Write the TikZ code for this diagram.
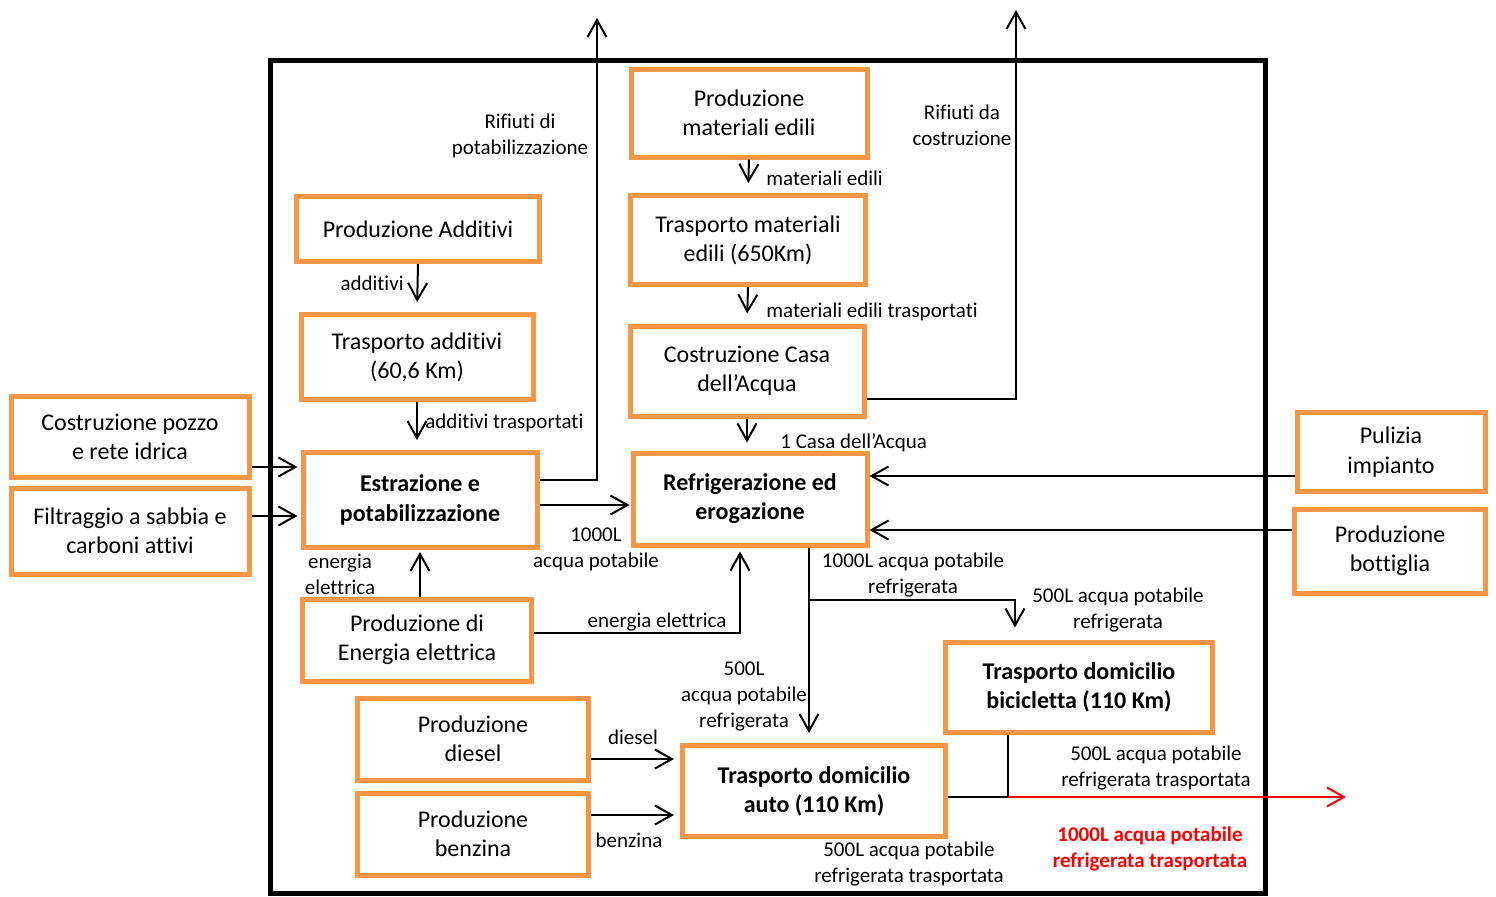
\documentclass[tikz,border=0pt]{standalone}
\usepackage{fontspec}
\setmainfont{Carlito}[Ligatures={NoCommon,NoContextual,NoRare}, RawFeature=-liga]
\usetikzlibrary{arrows.meta,calc}
\definecolor{boxorange}{HTML}{F79646}
\definecolor{outred}{HTML}{FF0000}
\tikzset{
  box/.style={draw=boxorange, line width=2.5pt, fill=white, align=center,
    font=\fontsize{12}{14.6}\selectfont, inner sep=0pt},
  boldbox/.style={box, font=\fontsize{12}{14.6}\selectfont\bfseries},
  lbl/.style={align=center, font=\fontsize{10.5}{13}\selectfont, inner sep=0pt},
  ln/.style={line width=1pt},
  arr/.style={line width=1pt, -{Straight Barb[length=8.5pt,width=9.5pt]}},
}
\begin{document}
\begin{tikzpicture}[x=0.5pt,y=-0.5pt]
\useasboundingbox (0,0) rectangle (1496,896);

% system boundary
\draw[line width=2.5pt] (270,60) rectangle (1265,893);

% process boxes
\node[box, minimum width=118pt, minimum height=44pt] (matedili) at (749,113) {Produzione\\materiali edili};
\node[box, minimum width=117.5pt, minimum height=44.5pt] (trasmat) at (748,240) {Trasporto materiali\\edili (650Km)};
\node[box, minimum width=117pt, minimum height=45pt] (casa) at (747,371) {Costruzione Casa\\dell’Acqua};
\node[box, minimum width=121.5pt, minimum height=32.5pt] (prodadd) at (418,229) {Produzione Additivi};
\node[box, minimum width=116pt, minimum height=42.5pt] (trasadd) at (417,357) {Trasporto additivi\\(60,6 Km)};
\node[box, minimum width=119pt, minimum height=40.5pt] (pozzo) at (130,437) {Costruzione pozzo\\e rete idrica};
\node[box, minimum width=119pt, minimum height=43pt] (filtr) at (130,531) {Filtraggio a sabbia e\\carboni attivi};
\node[boldbox, minimum width=117pt, minimum height=47.5pt] (estr) at (420,500) {Estrazione e\\potabilizzazione};
\node[boldbox, minimum width=117pt, minimum height=46pt] (refr) at (750,499) {Refrigerazione ed\\erogazione};
\node[box, minimum width=94pt, minimum height=39.5pt] (pulizia) at (1391,452) {Pulizia\\impianto};
\node[box, minimum width=95.5pt, minimum height=42pt] (bott) at (1390,551) {Produzione\\bottiglia};
\node[box, minimum width=114.5pt, minimum height=41pt] (energia) at (417,640) {Produzione di\\Energia elettrica};
\node[boldbox, minimum width=133.5pt, minimum height=45pt] (bici) at (1079,687) {Trasporto domicilio\\bicicletta (110 Km)};
\node[box, minimum width=115.5pt, minimum height=41pt] (diesel) at (473,739) {Produzione\\diesel};
\node[box, minimum width=115.5pt, minimum height=41pt] (benz) at (473,834) {Produzione\\benzina};
\node[boldbox, minimum width=131.5pt, minimum height=45.5pt] (auto) at (814,791) {Trasporto domicilio\\auto (110 Km)};

% free ends of the output flows
\coordinate (outA) at (597,18);
\coordinate (outB) at (1016,10);
\coordinate (split) at (809,600);
\coordinate (join) at (1008,797);
\coordinate (outC) at (1346,797);

% construction chain
\draw[arr, shorten >=5pt] (matedili.south) -- (trasmat.north);
\draw[arr, shorten >=5pt] (trasmat.south) -- (casa.north);
\draw[arr, shorten >=4pt] (casa.south) -- (casa.south |- refr.north);
\draw[arr] ([yshift=-14pt]casa.east) -| (outB);

% additives chain
\draw[arr, shorten >=5pt] (prodadd.south) -- (trasadd.north);
\draw[arr, shorten >=5pt] (trasadd.south) -- (trasadd.south |- estr.north);

% inputs to extraction
\draw[arr, shorten >=1.5pt] ([yshift=-15pt]pozzo.east) -- ([yshift=-15pt]pozzo.east -| estr.west);
\draw[arr, shorten >=1.5pt] ([yshift=7.5pt]filtr.east) -- ([yshift=7.5pt]filtr.east -| estr.west);
\draw[arr] ([yshift=10pt]estr.east) -| (outA);
\draw[arr, shorten >=0.5pt] ([yshift=-2.5pt]estr.east) -- ([yshift=-2.5pt]estr.east -| refr.west);

% electricity
\draw[arr, shorten >=1pt] (energia.north -| estr.south) -- (estr.south);
\draw[arr, shorten >=2pt] ([yshift=3.5pt]energia.east) -| ([xshift=-5pt]refr.south);

% inputs to dispensing
\draw[arr, shorten >=0pt] ([yshift=-12pt]pulizia.west) -- ([yshift=-12pt]pulizia.west -| refr.east);
\draw[arr, shorten >=0pt] ([yshift=10.5pt]bott.west) -- ([yshift=10.5pt]bott.west -| refr.east);

% home delivery
\draw[arr, shorten >=5pt] ([xshift=29.5pt]refr.south) -- ([xshift=29.5pt]refr.south |- auto.north);
\draw[arr, shorten >=6pt] (split) -| ([xshift=-32pt]bici.north);
\draw[arr, shorten >=3pt] ([yshift=-10pt]diesel.east) -- ([yshift=-10pt]diesel.east -| auto.west);
\draw[arr, shorten >=3pt] ([yshift=9.5pt]benz.east) -- ([yshift=9.5pt]benz.east -| auto.west);
\draw[ln] ([yshift=-3pt]auto.east) -- (join);
\draw[ln] (bici.south -| join) -- (join);
\draw[arr, outred] (join) -- (outC);

% flow labels
\node[lbl] (lRifP) at (520,136) {Rifiuti di\\potabilizzazione};
\node[lbl] (lRifC) at (962,125) {Rifiuti da\\costruzione};
\node[lbl, anchor=west] (lMat) at (766,178) {materiali edili};
\node[lbl, anchor=west] (lMatT) at (766,312) {materiali edili trasportati};
\node[lbl, anchor=west] (lCasa) at (780,443) {1 Casa dell’Acqua};
\node[lbl, anchor=east] (lAdd) at (404,283) {additivi};
\node[lbl, anchor=west] (lAddT) at (425,423) {additivi trasportati};
\node[lbl] (lAcq) at (596,549) {1000L\\acqua potabile};
\node[lbl] (lEnE) at (340,574) {energia\\elettrica};
\node[lbl] (lEnR) at (657,622) {energia elettrica};
\node[lbl] (lRefr) at (913,575) {1000L acqua potabile\\refrigerata};
\node[lbl] (lBici) at (1118,610) {500L acqua potabile\\refrigerata};
\node[lbl] (lAuto) at (744,696) {500L\\acqua potabile\\refrigerata};
\node[lbl] (lDies) at (633,737) {diesel};
\node[lbl] (lBenz) at (629,840) {benzina};
\node[lbl] (lBiciT) at (1156,768) {500L acqua potabile\\refrigerata trasportata};
\node[lbl] (lAutoT) at (909,864) {500L acqua potabile\\refrigerata trasportata};
\node[lbl, text=outred, font=\fontsize{10.5}{13}\selectfont\bfseries] (lOut) at (1150,849) {1000L acqua potabile\\refrigerata trasportata};
\end{tikzpicture}
\end{document}
